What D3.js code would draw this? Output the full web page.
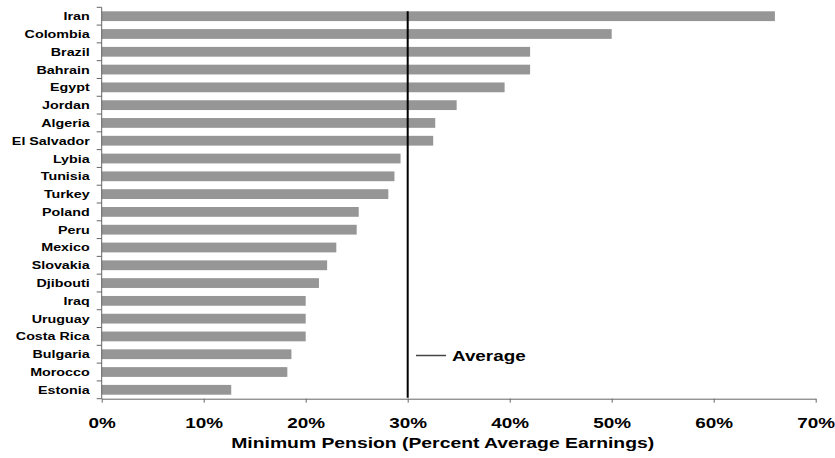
<!DOCTYPE html>
<html>
<head>
<meta charset="utf-8">
<script src="https://cdn.jsdelivr.net/npm/d3@7"></script>
<style>
  body { margin: 0; background: #fff; }
  svg text { font-family: "Liberation Sans", Arial, sans-serif; font-weight: bold; }
</style>
</head>
<body>
<svg id="chart"></svg>
<script>
// Minimum pension as percent of average earnings
const countries = ["Iran", "Colombia", "Brazil", "Bahrain", "Egypt", "Jordan", "Algeria", "El Salvador",
    "Lybia", "Tunisia", "Turkey", "Poland", "Peru", "Mexico", "Slovakia", "Djibouti",
    "Iraq", "Uruguay", "Costa Rica", "Bulgaria", "Morocco", "Estonia"];
const pension = [66.0, 50.0, 42.0, 42.0, 39.5, 34.8, 32.7, 32.5,
    29.3, 28.7, 28.1, 25.2, 25.0, 23.0, 22.1, 21.3,
    20.0, 20.0, 20.0, 18.6, 18.2, 12.7];
const xTicks = [0, 10, 20, 30, 40, 50, 60, 70];
const average = 30;

const width = 835;
const height = 458;
const margin = { top: 7.3, right: 19.3, bottom: 59.3, left: 101.7 };
const stretch = 1.3; // the original text is drawn wide

const svg = d3.select("#chart")
    .attr("width", width)
    .attr("height", height);

const x = d3.scaleLinear()
    .domain([0, 70])
    .range([margin.left, width - margin.right]);

const y = d3.scaleBand()
    .domain(countries)
    .range([margin.top, height - margin.bottom])
    .paddingInner(0.45)
    .paddingOuter(0.225);

// bars
svg.selectAll(".bar")
    .data(countries)
    .enter()
    .append("rect")
    .attr("class", "bar")
    .attr("x", x(0))
    .attr("y", d => y(d))
    .attr("width", (d, i) => x(pension[i]) - x(0))
    .attr("height", y.bandwidth())
    .attr("fill", "#969696");

// x axis
const xAxis = svg.append("g")
    .attr("transform", `translate(0,${height - margin.bottom})`)
    .call(d3.axisBottom(x).tickValues(xTicks).tickSize(4).tickSizeOuter(0).tickFormat(d => d + "%"));
xAxis.select(".domain").attr("stroke", "#666");
xAxis.selectAll(".tick line").attr("stroke", "#666");
xAxis.selectAll(".tick text")
    .attr("y", 0)
    .attr("dy", 0)
    .attr("transform", `translate(0,29.5) scale(1.35,1)`)
    .style("font-size", "14px")
    .attr("fill", "#000");

// y axis (ticks sit on the band boundaries)
const yAxis = svg.append("g")
    .attr("transform", `translate(${margin.left},0)`);
yAxis.append("line")
    .attr("x1", 0).attr("x2", 0)
    .attr("y1", margin.top).attr("y2", height - margin.bottom)
    .attr("stroke", "#666");
const step = y.step();
yAxis.selectAll(".ytick")
    .data(d3.range(countries.length + 1))
    .enter()
    .append("line")
    .attr("x1", -5).attr("x2", 0)
    .attr("y1", i => margin.top + i * step)
    .attr("y2", i => margin.top + i * step)
    .attr("stroke", "#666");
yAxis.selectAll(".ylabel")
    .data(countries)
    .enter()
    .append("text")
    .attr("transform", d => `translate(-12,${y(d) + y.bandwidth() / 2 + 4}) scale(${stretch},1)`)
    .attr("text-anchor", "end")
    .style("font-size", "11px")
    .text(d => d);

// average line
svg.append("line")
    .attr("x1", x(average)).attr("x2", x(average))
    .attr("y1", y(countries[0]))
    .attr("y2", height - margin.bottom - 1)
    .attr("stroke", "#000")
    .attr("stroke-width", 2);

// legend
svg.append("line")
    .attr("x1", 416).attr("x2", 446)
    .attr("y1", 355.5).attr("y2", 355.5)
    .attr("stroke", "#444")
    .attr("stroke-width", 1.5);
svg.append("text")
    .attr("transform", `translate(452,361) scale(${stretch},1)`)
    .style("font-size", "14.5px")
    .text("Average");

// x axis title
svg.append("text")
    .attr("transform", `translate(${(margin.left + width - margin.right) / 2 - 16},448) scale(1.29,1)`)
    .attr("text-anchor", "middle")
    .style("font-size", "15px")
    .text("Minimum Pension (Percent Average Earnings)");
</script>
</body>
</html>
